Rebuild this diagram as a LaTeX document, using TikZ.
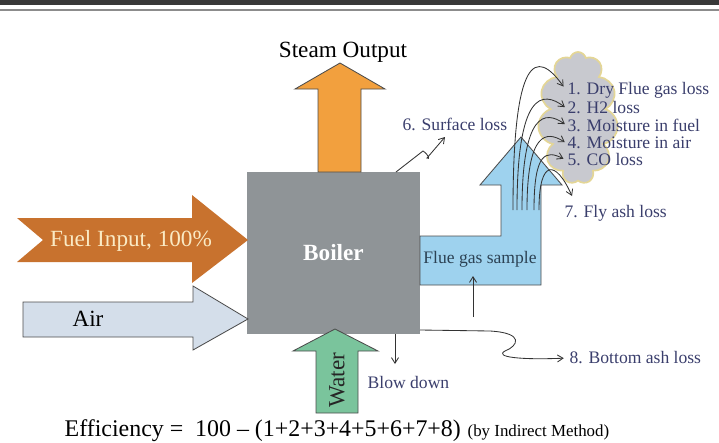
\documentclass[tikz,border=0pt]{standalone}
\usepackage{fontspec}
\setmainfont{Liberation Serif}
\usetikzlibrary{arrows.meta,shapes.symbols}

\definecolor{steamcol}{RGB}{242,160,62}
\definecolor{fuelcol}{RGB}{200,114,46}
\definecolor{aircol}{RGB}{212,222,234}
\definecolor{watercol}{RGB}{122,196,156}
\definecolor{fluecol}{RGB}{158,210,238}
\definecolor{boilercol}{RGB}{143,148,151}
\definecolor{losscol}{RGB}{58,62,108}
\definecolor{sampcol}{RGB}{44,66,84}
\definecolor{smokecol}{RGB}{200,201,207}
\definecolor{smokeedge}{RGB}{228,214,150}
\definecolor{fueltext}{RGB}{250,234,196}

\begin{document}
\begin{tikzpicture} [x=0.025cm, y=-0.025cm,
            every node/.style={inner sep=1pt, font=\fontsize{12.5}{14}\selectfont},
            big_style/.style={font=\fontsize{16.5}{18}\selectfont},
            loss_style/.style={anchor=west, text=losscol},
            block_style/.style={draw=black!70, line width=0.6pt},
            edge_style/.style={draw=black!80, line width=0.6pt, -{Straight Barb[length=4pt,width=5pt]}}]
            \useasboundingbox (0,0) rectangle (719,442);
            \fill[black!78] (0,0) rectangle (719,5);
            \fill[black!45] (0,9) rectangle (719,11);

            % boiler and the flows in and out of it
            \node[fill=boilercol, minimum width=4.325cm, minimum height=4.05cm, text=white,
                  font=\fontsize{16.5}{18}\selectfont\bfseries] (boiler) at (333.5,253) {Boiler};
            \draw[block_style, fill=steamcol] (318,172) -- (318,89) -- (295,89) -- (340,63)
                -- (385,89) -- (361,89) -- (361,172) -- cycle;
            \node[big_style] (steam) at (343,52) {Steam Output};
            \fill[fuelcol] (17,218) -- (192,218) -- (192,195) -- (248,240) -- (192,283)
                -- (192,262) -- (17,262) -- (43,240) -- cycle;
            \node[big_style, text=fueltext] (fuel) at (131,241) {Fuel Input, 100\%};
            \draw[block_style, fill=aircol] (23,302) -- (193,302) -- (193,286) -- (248,319)
                -- (193,350) -- (193,337) -- (23,337) -- cycle;
            \node[big_style] (air) at (88,319) {Air};
            \draw[block_style, fill=watercol] (316,413) -- (316,351) -- (293,351) -- (335,329)
                -- (378,351) -- (358,351) -- (358,413) -- cycle;
            \node[big_style, rotate=90, text=black!85] (water) at (337,380) {Water};
            \draw[block_style, fill=fluecol] (420,236) -- (501,236) -- (501,185) -- (480,185)
                -- (521,137) -- (562,185) -- (541,185) -- (541,285) -- (420,285) -- cycle;
            \node[text=sampcol] (sample) at (480,259) {Flue gas sample};
            \node[cloud, cloud puffs=11, cloud ignores aspect, fill=smokecol, draw=smokeedge,
                  line width=1.2pt, minimum width=2.0cm, minimum height=3.3cm] (smoke) at (578,118) {};

            % losses
            \node[loss_style] (l1) at (566,90) {1. Dry Flue gas loss};
            \node[loss_style] (l2) at (566,108) {2. H2 loss};
            \node[loss_style] (l3) at (566,125) {3. Moisture in fuel};
            \node[loss_style] (l4) at (566,143) {4. Moisture in air};
            \node[loss_style] (l5) at (566,160) {5. CO loss};
            \node[loss_style] (l6) at (401,124) {6. Surface loss};
            \node[loss_style] (l7) at (563,213) {7. Fly ash loss};
            \node[loss_style] (l8) at (568,358) {8. Bottom ash loss};
            \node[loss_style] (blow) at (366,382) {Blow down};

            \coordinate (s1) at (513,210);
            \coordinate (s2) at (517,210);
            \coordinate (s3) at (522,210);
            \coordinate (s4) at (527,210);
            \coordinate (s5) at (534,210);
            \coordinate (s7) at (539,210);
            \coordinate (f7) at (572,196);
            \draw[edge_style, shorten >=3pt] (s1) .. controls (513,55) and (536,48) .. (l1.west);
            \draw[edge_style, shorten >=1pt] (s2) .. controls (517,92) and (542,90) .. (l2.west);
            \draw[edge_style, shorten >=1pt] (s3) .. controls (522,112) and (545,110) .. (l3.west);
            \draw[edge_style, shorten >=1pt] (s4) .. controls (527,132) and (546,130) .. (l4.west);
            \draw[edge_style, shorten >=2pt] (s5) .. controls (534,152) and (546,150) .. (l5.west);
            \draw[edge_style] (s7) .. controls (539,158) and (556,160) .. (f7);

            \coordinate (sf) at (396,172);
            \coordinate (sfend) at (445,137);
            \draw[edge_style] (sf) -- (423,151) .. controls (429,155) and (430,160) .. (427,158)
                -- (sfend);
            \coordinate (ba) at (420,330);
            \draw[edge_style, shorten >=3pt] (ba) -- (490,331) .. controls (525,333) and (518,346) .. (505,351)
                .. controls (494,357) and (520,360) .. (l8.west);
            \coordinate (bd) at (395,334);
            \coordinate (bdend) at (395,364);
            \draw[edge_style] (bd) -- (bdend);
            \coordinate (fs) at (473,317);
            \coordinate (fsend) at (473,276);
            \draw[edge_style] (fs) -- (fsend);

            % efficiency line
            \node[anchor=base west, font=\fontsize{17}{19}\selectfont] (eff) at (63,436)
                {Efficiency =\ \ 100 -- (1+2+3+4+5+6+7+8)};
            \node[anchor=base west, font=\fontsize{12}{14}\selectfont] (method) at (466,436)
                {(by Indirect Method)};
        \end{tikzpicture}
\end{document}
